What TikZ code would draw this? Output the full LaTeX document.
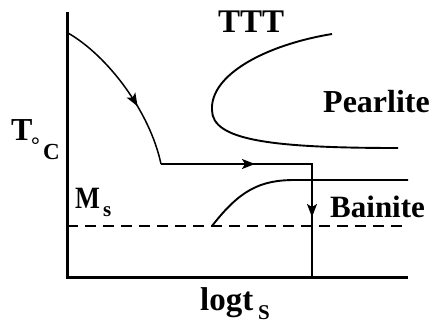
\documentclass[tikz,border=0pt]{standalone}
\usepackage{fontspec}
\setmainfont{Liberation Serif}
\usetikzlibrary{arrows.meta,decorations.markings}
\begin{document}
\begin{tikzpicture}[x=1pt,y=-1pt,
  axis/.style={line width=3pt},
  curve/.style={line width=1.9pt},
  pathline/.style={line width=1.5pt},
  headstyle/.style={Stealth[length=13pt,width=10pt,inset=3pt]},
  tipend/.style={-{Stealth[length=13pt,width=10pt,inset=3pt]}},
  lbl/.style={inner sep=0pt, anchor=base west}]
\useasboundingbox (0,0) rectangle (430,324);
% axes
\coordinate (ytop) at (67,12);
\coordinate (orig) at (67,277);
\coordinate (xend) at (408,277);
\draw[axis, line join=miter] (ytop) -- (orig) -- (xend);
% Ms dashed line
\coordinate (msl) at (67,226);
\coordinate (msr) at (406,226);
\draw[pathline, dash pattern=on 11pt off 7pt] (msl) -- (msr);
% pearlite C-curve
\coordinate (pa) at (332,34);
\coordinate (pn) at (212,110);
\coordinate (pb) at (398,148);
\draw[curve] (pa) .. controls (265,45) and (210,75) .. (pn)
  .. controls (212,140) and (270,148) .. (pb);
% bainite curve
\coordinate (ba) at (212,226);
\coordinate (bk) at (295,180);
\coordinate (bb) at (408,180);
\draw[curve] (ba) .. controls (240,190) and (260,180) .. (bk) -- (bb);
% cooling path
\coordinate (cs) at (68,33);
\coordinate (cc) at (161,164);
\coordinate (ch) at (255,164);
\coordinate (cr) at (312,164);
\coordinate (cv) at (312,217);
\coordinate (ce) at (312,277);
\draw[pathline, postaction=decorate,
  decoration={markings, mark=at position 0.62 with {\arrow{Stealth[length=13pt,width=10pt,inset=3pt]}}}]
  (cs) .. controls (108,56) and (150,112) .. (cc);
\draw[pathline, line join=miter] (cc) -- (cr) -- (ce);
\draw[pathline, tipend] (cc) -- (ch);
\draw[pathline, tipend] (cr) -- (cv);
% labels
\node[lbl, font=\bfseries\fontsize{33}{36}\selectfont] (ttt) at (218,32) {TTT};
\node[lbl, font=\bfseries\fontsize{32}{36}\selectfont] (pear) at (323,112) {Pearlite};
\node[lbl, font=\bfseries\fontsize{31}{36}\selectfont] (bain) at (330,217) {Bainite};
\node[lbl, font=\bfseries\fontsize{31}{36}\selectfont] (mm) at (75,208) {\scalebox{0.85}[1]{M}};
\node[lbl, font=\bfseries\fontsize{21}{24}\selectfont] (ms) at (103,216) {s};
\node[lbl, font=\bfseries\fontsize{32}{36}\selectfont] (tt) at (11,140) {T};
\node[lbl, font=\bfseries\fontsize{22}{24}\selectfont] (deg) at (31,152) {°};
\node[lbl, font=\bfseries\fontsize{23}{26}\selectfont] (cel) at (43,159) {C};
\node[lbl, font=\bfseries\fontsize{33}{36}\selectfont] (logt) at (200,310) {logt};
\node[lbl, font=\bfseries\fontsize{21}{24}\selectfont] (sub) at (258,319) {S};
\end{tikzpicture}
\end{document}
